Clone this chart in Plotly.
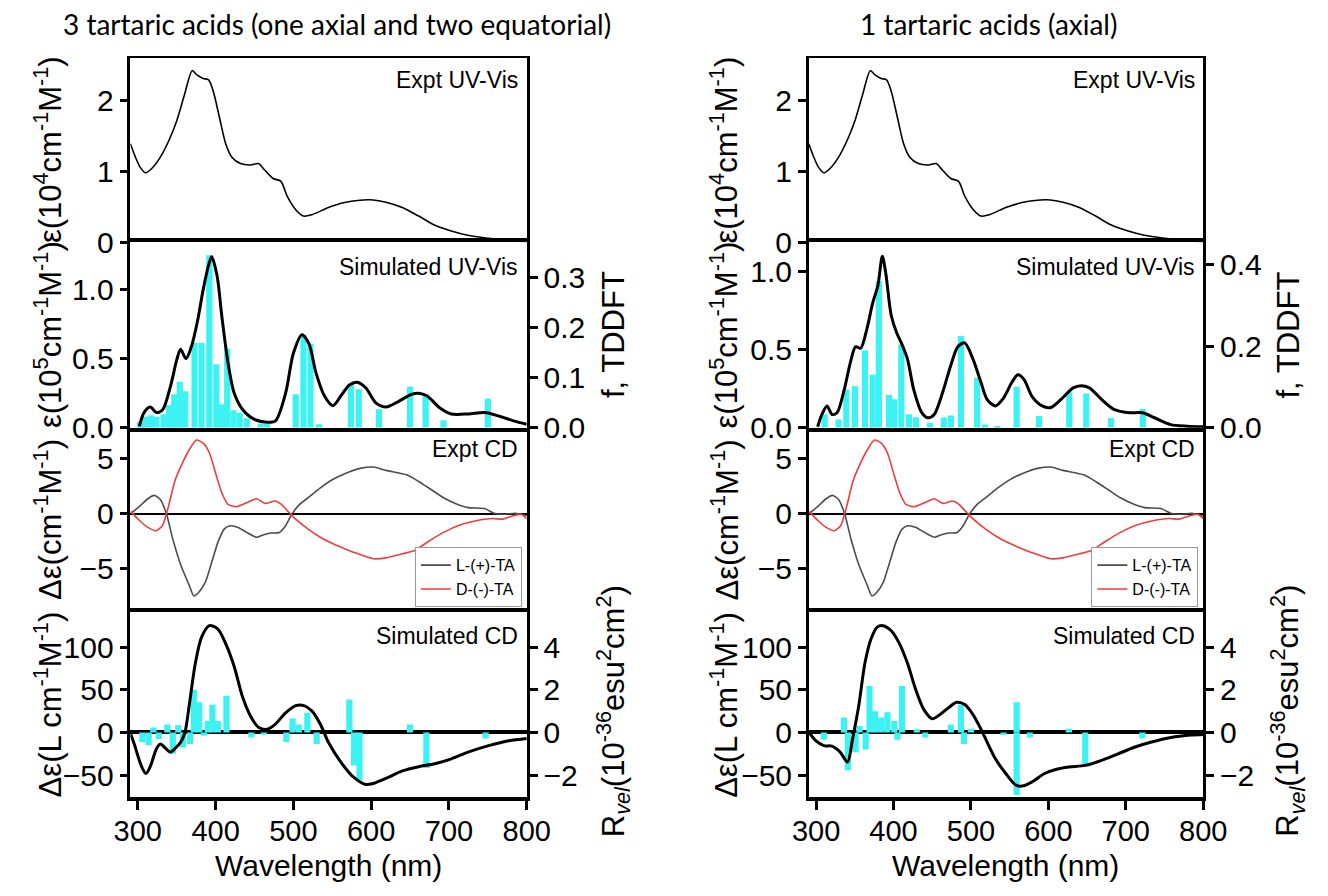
import plotly.graph_objects as go

# ---------------- data ----------------
# Experimental UV-Vis (same measurement shown in both columns), 10^4 cm-1 M-1
wl_uv_expt = [290.5, 297, 303, 310, 318, 329, 341, 350, 360, 370, 376, 384, 391, 397, 405, 413, 421, 432,
              445, 455, 463, 474, 484, 492, 503, 513, 524, 545, 566, 598, 619, 640, 661, 682, 703, 724,
              751, 777, 800]
eps_uv_expt = [1.39, 1.20, 1.06, 0.98, 1.04, 1.20, 1.46, 1.71, 2.08, 2.42, 2.36, 2.31, 2.29, 2.13, 1.76, 1.39,
               1.20, 1.11, 1.09, 1.11, 1.02, 0.90, 0.86, 0.65, 0.46, 0.37, 0.39, 0.49, 0.56, 0.60, 0.565,
               0.49, 0.37, 0.24, 0.16, 0.10, 0.056, 0.023, 0.01]

# Experimental CD (both columns)
wl_cd_L = [291, 302.6, 313, 321, 329, 337, 345, 355.4, 366, 372, 379, 387, 395, 403, 411, 418.6, 429, 440,
           453, 461, 471.4, 482, 490, 498, 508, 519, 534.7, 550.5, 566, 587.4, 603, 619, 645.6, 661, 677,
           693, 709, 724.5, 745.6, 759, 772, 785, 800]
cd_L = [0, 0.68, 1.34, 1.64, 1.28, -0.06, -2.3, -4.67, -6.46, -7.44, -7.05, -6.16, -4.4, -2.6, -1.4, -1.1,
        -1.25, -1.7, -2.14, -1.93, -1.76, -1.7, -1.1, -0.06, 0.83, 1.43, 2.32, 3.07, 3.6, 4.1, 4.2, 3.9, 3.5,
        2.9, 2.17, 1.43, 0.89, 0.54, 0.45, 0.0, -0.06, 0.03, -0.2]
wl_cd_D = [291, 302.6, 313, 323.7, 331.6, 338.5, 347.5, 355.4, 366, 375.4, 384.4, 392.3, 400, 408, 416, 426.6,
           440, 453, 463.5, 476.6, 484.6, 492.5, 503, 519, 534.7, 556, 577, 603, 619, 640, 656, 672, 693, 714,
           735, 756, 769, 782.6, 793, 800]
cd_D = [0.2, -0.65, -1.25, -1.55, -1.1, 0.39, 2.9, 4.26, 5.74, 6.64, 6.34, 5.45, 3.66, 1.88, 0.83, 0.63, 0.98,
        1.34, 0.92, 1.13, 0.83, 0.24, -0.5, -1.4, -2.14, -2.89, -3.48, -4.08, -4.0, -3.63, -3.33, -2.59, -1.7,
        -1.04, -0.65, -0.45, -0.5, -0.2, -0.06, -0.45]

# --- 3 tartaric acids: simulated UV-Vis (10^5) and oscillator strengths
wl_simuv_3 = [302, 308, 316, 324, 332, 342, 350, 355, 362, 369, 377, 384, 391, 395, 402, 408, 416, 424, 435,
              450, 466, 477, 490, 500, 511, 520, 529, 540, 551, 561, 572, 582, 593, 606, 619, 635, 651, 661,
              672, 688, 703, 725, 746, 764, 783, 800]
eps_simuv_3 = [0.01, 0.11, 0.15, 0.11, 0.13, 0.30, 0.49, 0.57, 0.50, 0.59, 0.78, 1.0, 1.18, 1.24, 1.10, 0.81,
               0.47, 0.25, 0.13, 0.06, 0.04, 0.05, 0.25, 0.54, 0.675, 0.61, 0.40, 0.23, 0.16, 0.23, 0.31, 0.33,
               0.29, 0.18, 0.15, 0.19, 0.24, 0.25, 0.23, 0.145, 0.10, 0.10, 0.11, 0.085, 0.05, 0.025]
wl_f_3 = [303, 310, 317, 324, 333, 340, 347, 354, 361, 373, 382, 392, 401, 408, 415, 423, 431, 440, 458, 466,
          503, 513, 522, 533, 574, 584, 610, 650, 670, 693, 750]
f_3 = [0.012, 0.022, 0.025, 0.022, 0.027, 0.045, 0.067, 0.092, 0.073, 0.17, 0.17, 0.345, 0.127, 0.047, 0.158,
       0.035, 0.03, 0.019, 0.008, 0.008, 0.067, 0.185, 0.168, 0.007, 0.087, 0.077, 0.037, 0.082, 0.067, 0.015,
       0.058]

# --- 3 tartaric acids: simulated CD and rotatory strengths
wl_simcd_3 = [291, 296, 300, 305, 310.5, 316, 324, 329, 334, 342, 347.5, 355, 360.6, 366, 374, 382, 392, 403,
              413, 424, 434.5, 445, 455.6, 466, 476.6, 490, 503, 513.6, 524, 534.7, 545, 561, 577, 593, 603,
              619, 640, 661, 682, 703, 724.5, 751, 777, 800]
cd_sim_3 = [-2, -15, -27, -40, -48, -40, -19, -13.5, -17, -23, -19, -11.5, 0, 31, 81, 111.5, 125, 121, 104, 77,
            42, 19, 5.8, 3.8, 9.6, 23, 31.5, 31.5, 25, 9.6, -11.5, -34.6, -52, -60.8, -59.6, -53.8, -45, -40,
            -36.5, -30.8, -23, -15.4, -9.6, -7]
wl_r_3 = [306, 314, 320, 327, 338, 345, 352, 358, 367, 372, 379, 385, 390, 396, 403, 414, 446, 462, 491, 499,
          507, 518, 530, 572, 578, 585, 650, 671, 747]
r_3 = [-0.46, -0.6, 0.23, -0.3, 0.38, -1.0, 0.34, -0.7, -0.54, 2.0, 1.42, -0.15, 0.54, 1.3, 0.54, 1.72, -0.23,
       -0.1, -0.46, 0.65, 0.38, 0.92, -0.54, 1.54, -1.54, -2.23, 0.38, -1.66, -0.28]

# --- 1 tartaric acid: simulated UV-Vis and oscillator strengths
wl_simuv_1 = [302, 307.4, 314, 320.6, 327, 336.4, 344.3, 351, 357.5, 365.4, 373, 379.7, 385.5, 390, 397, 404,
              410, 418, 426, 436.6, 444.6, 452.5, 463, 473.6, 483, 492, 502.6, 513, 521, 531.6, 542, 552.7,
              560.6, 568.5, 579, 592, 603, 616, 632, 642, 653, 669, 684.6, 705.6, 721.5, 737, 758, 779.5, 800]
eps_simuv_1 = [0.006, 0.085, 0.14, 0.085, 0.096, 0.246, 0.42, 0.52, 0.51, 0.63, 0.80, 0.91, 1.10, 0.99, 0.72,
               0.61, 0.545, 0.44, 0.246, 0.096, 0.064, 0.085, 0.22, 0.395, 0.52, 0.545, 0.44, 0.29, 0.18, 0.14,
               0.19, 0.29, 0.34, 0.31, 0.20, 0.14, 0.13, 0.18, 0.256, 0.27, 0.256, 0.18, 0.118, 0.096, 0.096,
               0.064, 0.02, 0.01, 0.006]
wl_f_1 = [311, 329, 339, 350, 363, 373, 381, 394, 401, 410, 420, 429, 447, 465, 474, 487, 508, 518, 534, 559,
          588, 627, 649, 681, 722]
f_1 = [0.033, 0.02, 0.094, 0.102, 0.19, 0.13, 0.36, 0.08, 0.07, 0.204, 0.033, 0.026, 0.012, 0.025, 0.03,
       0.225, 0.122, 0.008, 0.004, 0.10, 0.029, 0.087, 0.084, 0.024, 0.046]

# --- 1 tartaric acid: simulated CD and rotatory strengths
wl_simcd_1 = [291.6, 299.5, 310, 320.6, 331, 340.6, 347, 355, 363, 371, 378.6, 386.5, 397, 407.6, 418, 428.7,
              439, 450, 460, 471, 481.5, 492, 502.6, 513, 521, 531.6, 545, 558, 566, 579, 595, 610.7, 626.5,
              647.6, 668.7, 690, 711, 732, 758.4, 784.8, 800]
cd_sim_1 = [-0.8, -9.6, -15.4, -16, -23, -34.6, -7.7, 31, 81, 109.6, 123, 125, 119, 104, 81, 50, 27, 16, 21, 29,
            35.4, 32.7, 21, 3.8, -11.5, -30.8, -48, -61.5, -62.7, -57.7, -48, -43, -40.4, -38.5, -32.7, -25,
            -17.3, -11.5, -5.8, -3, -2.3]
wl_r_1 = [310, 336, 341, 351, 356, 364, 369, 376, 384, 392, 401, 405, 411, 430, 441, 474, 487, 491, 500, 542,
          559, 559, 576, 626.5, 647.6, 721.5]
r_1 = [-0.34, 0.7, -1.77, -0.92, 0.3, -0.8, 2.18, 1.0, 0.7, 0.95, 0.54, -0.34, 2.18, 0.15, -0.23, 0.38, 1.3,
       -0.54, 0.18, -0.12, 1.42, -2.92, -0.23, 0.18, -1.5, -0.28]

col_titles = ["3 tartaric acids (one axial and two equatorial)", "1 tartaric acids (axial)"]
panel_labels = ["Expt UV-Vis", "Simulated UV-Vis", "Expt CD", "Simulated CD"]
legend_names = ["L-(+)-TA", "D-(-)-TA"]
x_ticks = [300, 400, 500, 600, 700, 800]

# ---------------- layout geometry ----------------
W, H = 1328, 896
ARIAL = "Liberation Sans, Arial, sans-serif"
CYAN = "#3DF2F2"
panel_px = [59, 247, 436, 624, 812]
col_px = [(117, 526), (817, 1224)]
XR = [290.5, 800]


def py(p):
    return 1 - p / H


def name(prefix, i):
    return prefix if i == 1 else f"{prefix}{i}"


def ref(prefix, i):
    return prefix if i == 1 else f"{prefix}{i}"


uv_sim = [(wl_simuv_3, eps_simuv_3, wl_f_3, f_3), (wl_simuv_1, eps_simuv_1, wl_f_1, f_1)]
cd_sim = [(wl_simcd_3, cd_sim_3, wl_r_3, r_3), (wl_simcd_1, cd_sim_1, wl_r_1, r_1)]
uv_ranges = [([0, 1.345], [0, 0.371], 0.1), ([0, 1.19], [0, 0.455], 0.2)]

fig = go.Figure()
layout = {}
annotations = []

tickfont = dict(family=ARIAL, size=30, color="black")
xtickfont = dict(family=ARIAL, size=29, color="black")
ybase = dict(showgrid=False, zeroline=False, showline=True, linecolor="black", linewidth=2.5,
             ticks="outside", ticklen=8, tickwidth=2.5, tickcolor="black", tickfont=tickfont)

for c in range(2):
    bx = 4 * c + 1
    by = 6 * c + 1
    xd = [col_px[c][0] / W, col_px[c][1] / W]
    doms = [[py(panel_px[p + 1]), py(panel_px[p])] for p in range(4)]
    # x axes
    for p in range(4):
        xa = dict(domain=xd, range=XR, anchor=ref("y", by + p), showgrid=False, zeroline=False,
                  linecolor="black", ticks="", showticklabels=False)
        if p == 0:
            xa.update(showline=True, side="top", linewidth=2)
        elif p == 1:
            xa.update(showline=True, mirror=True, linewidth=4)
        elif p == 2:
            xa.update(showline=False)
        else:
            xa.update(showline=True, mirror=True, linewidth=4, ticks="outside", ticklen=9, tickwidth=3,
                      tickcolor="black", tickvals=x_ticks, showticklabels=True, tickfont=xtickfont,
                      ticklabelstandoff=-3)
        layout[name("xaxis", bx + p)] = xa
    # y axes
    layout[name("yaxis", by)] = dict(ybase, domain=doms[0], anchor=ref("x", bx), range=[0, 2.6], dtick=1,
                                     tick0=0, mirror=True)
    epsr, fr, fd = uv_ranges[c]
    layout[name("yaxis", by + 1)] = dict(ybase, domain=doms[1], anchor=ref("x", bx + 1), side="right",
                                         range=fr, dtick=fd, tick0=0, tickformat=".1f")
    layout[name("yaxis", by + 4)] = dict(ybase, overlaying=ref("y", by + 1), anchor=ref("x", bx + 1),
                                         side="left", range=epsr, dtick=0.5, tick0=0, tickformat=".1f")
    layout[name("yaxis", by + 2)] = dict(ybase, domain=doms[2], anchor=ref("x", bx + 2), range=[-8.9, 7.75],
                                         dtick=5, tick0=0, mirror=True, zeroline=True, zerolinecolor="black",
                                         zerolinewidth=2)
    layout[name("yaxis", by + 3)] = dict(ybase, domain=doms[3], anchor=ref("x", bx + 3), side="right",
                                         range=[-3, 5.632], dtick=2, tick0=0, zeroline=True,
                                         zerolinecolor="black", zerolinewidth=4)
    layout[name("yaxis", by + 5)] = dict(ybase, overlaying=ref("y", by + 3), anchor=ref("x", bx + 3),
                                         side="left", range=[-75, 140.8], dtick=50, tick0=0)

    # traces
    fig.add_trace(go.Scatter(x=wl_uv_expt, y=eps_uv_expt, mode="lines", line=dict(color="black", width=1.6,
                             shape="spline", smoothing=0.8), showlegend=False,
                             xaxis=ref("x", bx), yaxis=ref("y", by)))
    wl, eps, wlf, fv = uv_sim[c]
    fig.add_trace(go.Bar(x=wlf, y=fv, width=8, marker=dict(color=CYAN, line=dict(width=0)), showlegend=False,
                         xaxis=ref("x", bx + 1), yaxis=ref("y", by + 1)))
    fig.add_trace(go.Scatter(x=wl, y=eps, mode="lines", line=dict(color="black", width=3, shape="spline",
                             smoothing=0.8), showlegend=False,
                             xaxis=ref("x", bx + 1), yaxis=ref("y", by + 4)))
    leg = "legend" if c == 0 else "legend2"
    fig.add_trace(go.Scatter(x=wl_cd_L, y=cd_L, mode="lines", name=legend_names[0],
                             line=dict(color="#4d4d4d", width=1.6, shape="spline", smoothing=0.6),
                             legend=leg, xaxis=ref("x", bx + 2), yaxis=ref("y", by + 2)))
    fig.add_trace(go.Scatter(x=wl_cd_D, y=cd_D, mode="lines", name=legend_names[1],
                             line=dict(color="#f03c3c", width=1.6, shape="spline", smoothing=0.6),
                             legend=leg, xaxis=ref("x", bx + 2), yaxis=ref("y", by + 2)))
    wl, cdv, wlr, rv = cd_sim[c]
    fig.add_trace(go.Bar(x=wlr, y=rv, width=8, marker=dict(color=CYAN, line=dict(width=0)), showlegend=False,
                         xaxis=ref("x", bx + 3), yaxis=ref("y", by + 3)))
    fig.add_trace(go.Scatter(x=wl, y=cdv, mode="lines", line=dict(color="black", width=3, shape="spline",
                             smoothing=0.8), showlegend=False,
                             xaxis=ref("x", bx + 3), yaxis=ref("y", by + 5)))

    # panel labels
    label_y = [0.878, 0.868, 0.883, 0.872]
    for p in range(4):
        annotations.append(dict(text=panel_labels[p], xref=f"{ref('x', bx + p)} domain",
                                yref=f"{ref('y', by + p)} domain", x=0.983, y=label_y[p], xanchor="right",
                                yanchor="middle", showarrow=False,
                                font=dict(family=ARIAL, size=23, color="black")))
    # y titles (left)
    left_titles = ["ε(10<sup>4</sup>cm<sup>-1</sup>M<sup>-1</sup>)", "ε(10<sup>5</sup>cm<sup>-1</sup>M<sup>-1</sup>)",
                   "Δε(cm<sup>-1</sup>M<sup>-1</sup>)", "Δε(L cm<sup>-1</sup>M<sup>-1</sup>)"]
    lx = [32, 730][c]
    for p in range(4):
        yc = (panel_px[p] + panel_px[p + 1]) / 2
        annotations.append(dict(text=left_titles[p], xref="paper", yref="paper", x=lx / W, y=py(yc),
                                xanchor="center", yanchor="middle", textangle=-90, showarrow=False,
                                font=dict(family=ARIAL, size=31, color="black")))
    rx = [615, 1311][c]
    annotations.append(dict(text="f, TDDFT", xref="paper", yref="paper", x=rx / W,
                            y=py((panel_px[1] + panel_px[2]) / 2), xanchor="center", yanchor="middle",
                            textangle=-90, showarrow=False, font=dict(family=ARIAL, size=31, color="black")))
    annotations.append(dict(text="R<sub><i>vel</i></sub>(10<sup>-36</sup>esu<sup>2</sup>cm<sup>2</sup>)",
                            xref="paper", yref="paper", x=rx / W, y=py(725), xanchor="center",
                            yanchor="middle", textangle=-90, showarrow=False,
                            font=dict(family=ARIAL, size=31, color="black")))
    # x title
    annotations.append(dict(text="Wavelength (nm)", xref="paper", yref="paper",
                            x=(col_px[c][0] + col_px[c][1]) / 2 / W, y=py(882), xanchor="center",
                            yanchor="middle", showarrow=False, borderpad=0,
                            font=dict(family=ARIAL, size=30, color="black")))
    # column title
    annotations.append(dict(text=col_titles[c], xref="paper", yref="paper", x=[330, 1002][c] / W, y=py(24),
                            xanchor="center", yanchor="middle", showarrow=False,
                            font=dict(family="Lato, Open Sans, sans-serif", size=28, color="black")))

legend_style = dict(xanchor="right", yanchor="bottom", bordercolor="#999999", borderwidth=1,
                    bgcolor="white", font=dict(family=ARIAL, size=16, color="black"), itemwidth=30,
                    tracegroupgap=0)
layout["legend"] = dict(legend_style, x=521 / W, y=py(619))
layout["legend2"] = dict(legend_style, x=1219 / W, y=py(619))

fig.update_layout(**layout)
fig.update_layout(width=W, height=H, margin=dict(l=0, r=0, t=0, b=0), autosize=False,
                  paper_bgcolor="white", plot_bgcolor="white", barmode="overlay",
                  annotations=annotations, showlegend=True)

fig.write_html("out.html")
